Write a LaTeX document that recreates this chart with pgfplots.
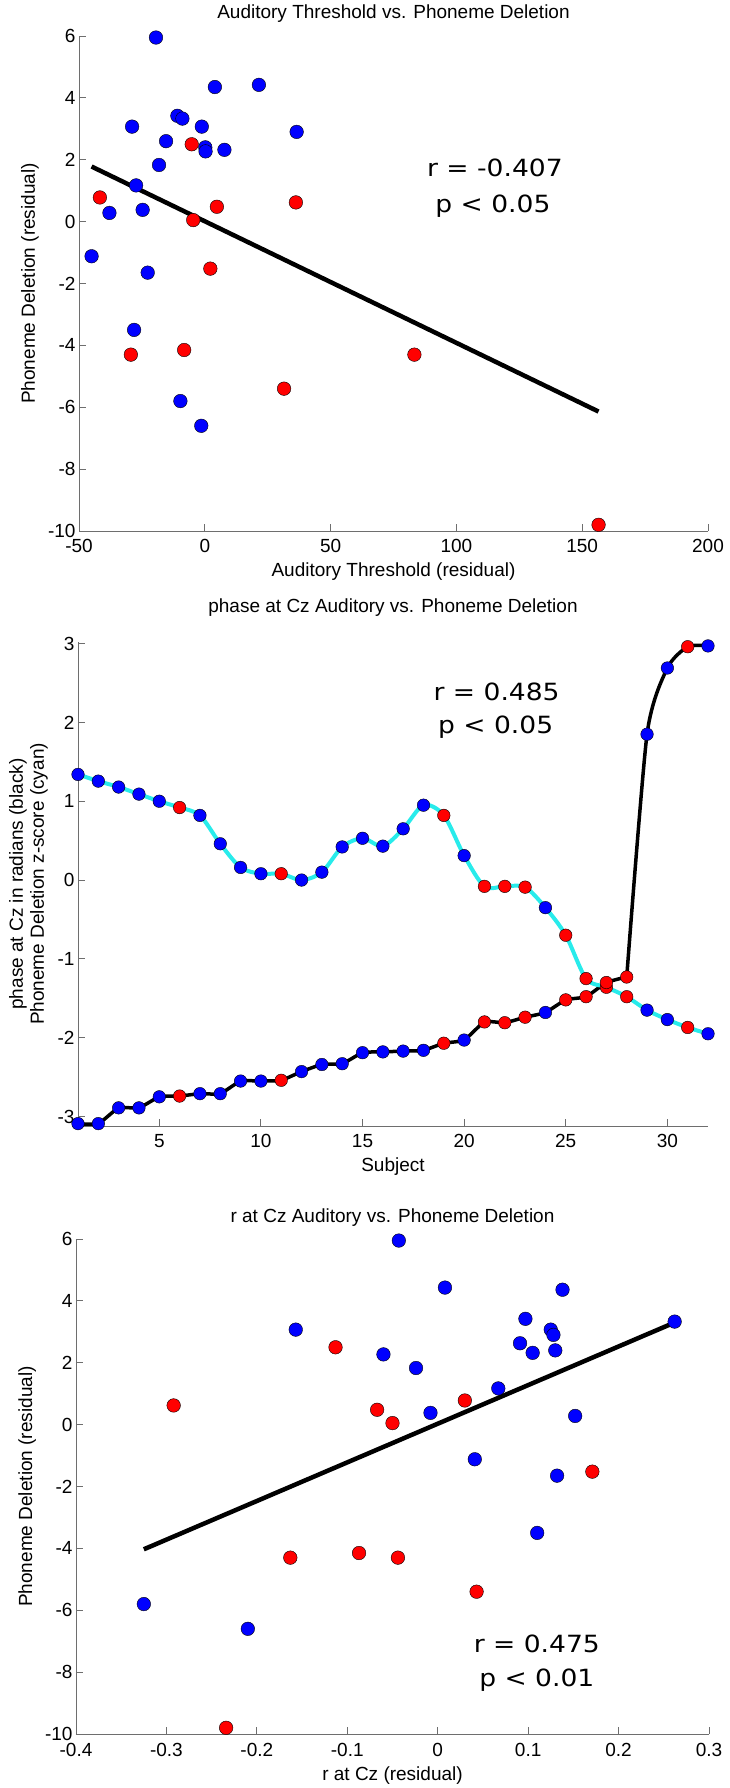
\documentclass[border=0pt]{standalone}
\usepackage{fontspec}
\setmainfont{Liberation Sans}
\newfontfamily\annfont{DejaVu Sans}[FakeStretch=1.12]
\usepackage{pgfplots}
\pgfplotsset{compat=1.18}
\definecolor{mblue}{RGB}{0,0,255}
\definecolor{mred}{RGB}{255,0,0}
\definecolor{mcyan}{RGB}{40,235,235}
\definecolor{axgray}{RGB}{110,110,110}
\newcommand{\lbl}{\fontsize{19}{21}\selectfont}
\newcommand{\ann}{\annfont\fontsize{23.7}{28}\selectfont}
\pgfplotsset{
  every axis title shift=0pt,
  mat/.style={
    scale only axis,
    anchor=south west,
    axis x line*=bottom,
    axis y line*=left,
    axis line style={axgray, line width=0.9pt},
    tick align=inside,
    major tick length=7pt,
    every tick/.style={axgray, line width=0.9pt},
    tick label style={font=\lbl, text=black},
    /pgf/number format/assume math mode=true,
    xticklabel style={anchor=base, yshift=-22pt},
    label style={font=\lbl},
    title style={font=\lbl, anchor=base},
    xlabel style={at={(rel axis cs:0.5,0)}, anchor=base, yshift=-46pt},
    clip=false,
  },
  bm/.style={only marks, mark=*, mark size=#1, mark options={draw=none, fill=mblue}},
  rm/.style={only marks, mark=*, mark size=#1, mark options={draw=none, fill=mred}},
}
\begin{document}
\begin{tikzpicture}
\useasboundingbox (0,0) rectangle (729pt,1788pt);
% ---------------- Panel 1
\begin{axis}[mat, at={(79pt,1257pt)}, width=629pt, height=495pt,
  xmin=-50, xmax=200, ymin=-10, ymax=6,
  xtick={-50,0,50,100,150,200}, ytick={-10,-8,-6,-4,-2,0,2,4,6},
  title={Auditory Threshold vs. Phoneme Deletion},
  title style={at={([yshift=17pt]rel axis cs:0.5,1)}},
  xlabel={Auditory Threshold (residual)},
  ylabel={Phoneme Deletion (residual)},
  ylabel style={at={([xshift=-44pt]rel axis cs:0,0.5)}, anchor=base}]
\addplot[bm=6.8pt] coordinates {(-19.4,5.95)(4,4.35)(21.5,4.42)(-28.9,3.07)(-10.9,3.42)(-8.9,3.33)(-1.2,3.07)(-15.4,2.6)(0.2,2.4)(0.3,2.27)(7.8,2.32)(36.5,2.9)(-18.2,1.83)(-27.3,1.17)(-37.9,0.28)(-24.7,0.38)(-45,-1.12)(-22.7,-1.65)(-28.1,-3.5)(-9.7,-5.8)(-1.4,-6.6)};
\addplot[rm=6.8pt] coordinates {(-5.2,2.5)(-41.7,0.78)(4.8,0.48)(-4.6,0.05)(36.2,0.62)(2.2,-1.52)(-29.4,-4.3)(-8.2,-4.15)(31.5,-5.4)(83.3,-4.3)(156.5,-9.8)};
\addplot[black, line width=4.5pt] coordinates {(-45,1.78)(156.5,-6.14)};
\node[anchor=base, font=\ann] at (axis cs:115.3,1.45) {r = -0.407};
\node[anchor=base, font=\ann] at (axis cs:114.5,0.31) {p < 0.05};
\end{axis}
% ---------------- Panel 2
\begin{axis}[mat, at={(78pt,662pt)}, width=630pt, height=484pt,
  xmin=1, xmax=32, ymin=-3.12, ymax=3.02,
  xtick={5,10,15,20,25,30}, ytick={-3,-2,-1,0,1,2,3},
  title={phase at Cz Auditory vs. Phoneme Deletion},
  title style={at={([yshift=29pt]rel axis cs:0.5,1)}},
  xlabel={Subject},
  ylabel={phase at Cz in radians (black)\\Phoneme Deletion z-score (cyan)},
  ylabel style={align=center, at={([xshift=-30pt]rel axis cs:0,0.5)}, anchor=south, inner sep=0pt}]
\addplot[bm=6.3pt] coordinates {(1,1.34)(2,1.255)(3,1.18)(4,1.09)(5,1.0)(7,0.82)(8,0.46)(9,0.16)(10,0.08)(12,0.0)(13,0.1)(14,0.42)(15,0.53)(16,0.43)(17,0.65)(18,0.95)(20,0.31)(24,-0.35)(29,-1.65)(30,-1.77)(32,-1.95)};
\addplot[rm=6.3pt] coordinates {(6,0.92)(11,0.08)(19,0.82)(21,-0.08)(22,-0.08)(23,-0.09)(25,-0.70)(26,-1.25)(27,-1.36)(28,-1.48)(31,-1.87)};
\addplot[bm=6.3pt] coordinates {(1,-3.09)(2,-3.09)(3,-2.89)(4,-2.89)(5,-2.75)(7,-2.71)(8,-2.71)(9,-2.55)(10,-2.55)(12,-2.43)(13,-2.34)(14,-2.33)(15,-2.19)(16,-2.18)(17,-2.17)(18,-2.16)(20,-2.03)(24,-1.68)(29,1.85)(30,2.69)(32,2.97)};
\addplot[rm=6.3pt] coordinates {(6,-2.74)(11,-2.54)(19,-2.07)(21,-1.80)(22,-1.81)(23,-1.74)(25,-1.52)(26,-1.48)(27,-1.30)(28,-1.23)(31,2.96)};
\addplot[black, line width=3.5pt, smooth, tension=0.3] coordinates {(1,-3.09)(2,-3.09)(3,-2.89)(4,-2.89)(5,-2.75)(6,-2.74)(7,-2.71)(8,-2.71)(9,-2.55)(10,-2.55)(11,-2.54)(12,-2.43)(13,-2.34)(14,-2.33)(15,-2.19)(16,-2.18)(17,-2.17)(18,-2.16)(19,-2.07)(20,-2.03)(21,-1.80)(22,-1.81)(23,-1.74)(24,-1.68)(25,-1.52)(26,-1.48)(27,-1.30)(28,-1.23)};
\addplot[black, line width=3.5pt, smooth, tension=0.4] coordinates {(28,-1.23)(29,1.85)(30,2.69)(31,2.96)(32,2.97)};
\addplot[mcyan, line width=4pt, smooth, tension=0.5] coordinates {(1,1.34)(2,1.255)(3,1.18)(4,1.09)(5,1.0)(6,0.92)(7,0.82)(8,0.46)(9,0.16)(10,0.08)(11,0.08)(12,0.0)(13,0.1)(14,0.42)(15,0.53)(16,0.43)(17,0.65)(18,0.95)(19,0.82)(20,0.31)(21,-0.08)(22,-0.08)(23,-0.09)(24,-0.35)(25,-0.70)(26,-1.25)(27,-1.36)(28,-1.48)(29,-1.65)(30,-1.77)(31,-1.87)(32,-1.95)};
\node[anchor=base, font=\ann] at (axis cs:21.6,2.276) {r = 0.485};
\node[anchor=base, font=\ann] at (axis cs:21.55,1.856) {p < 0.05};
\end{axis}
% ---------------- Panel 3
\begin{axis}[mat, at={(76pt,54pt)}, width=633pt, height=495pt,
  xmin=-0.4, xmax=0.3, ymin=-10, ymax=6,
  xtick={-0.4,-0.3,-0.2,-0.1,0,0.1,0.2,0.3}, ytick={-10,-8,-6,-4,-2,0,2,4,6},
  title={r at Cz Auditory vs. Phoneme Deletion},
  title style={at={([yshift=16pt]rel axis cs:0.5,1)}},
  xlabel={r at Cz (residual)},
  ylabel={Phoneme Deletion (residual)},
  ylabel style={at={([xshift=-44pt]rel axis cs:0,0.5)}, anchor=base}]
\addplot[black, line width=4.5pt] coordinates {(-0.325,-4.03)(0.262,3.3)};
\addplot[bm=6.8pt] coordinates {(-0.043,5.95)(0.008,4.43)(-0.157,3.07)(-0.06,2.27)(-0.024,1.83)(-0.008,0.38)(0.138,4.36)(0.097,3.42)(0.262,3.33)(0.125,3.07)(0.128,2.9)(0.091,2.63)(0.105,2.32)(0.13,2.4)(0.067,1.17)(0.152,0.28)(0.041,-1.12)(0.132,-1.65)(0.11,-3.5)(-0.325,-5.8)(-0.21,-6.6)};
\addplot[rm=6.8pt] coordinates {(-0.113,2.5)(-0.292,0.62)(-0.067,0.48)(-0.05,0.05)(0.03,0.78)(0.171,-1.52)(-0.163,-4.3)(-0.087,-4.15)(-0.044,-4.3)(0.043,-5.4)(-0.234,-9.8)};
\node[anchor=base, font=\ann] at (axis cs:0.1096,-7.355) {r = 0.475};
\node[anchor=base, font=\ann] at (axis cs:0.1096,-8.45) {p < 0.01};
\end{axis}
\end{tikzpicture}
\end{document}
